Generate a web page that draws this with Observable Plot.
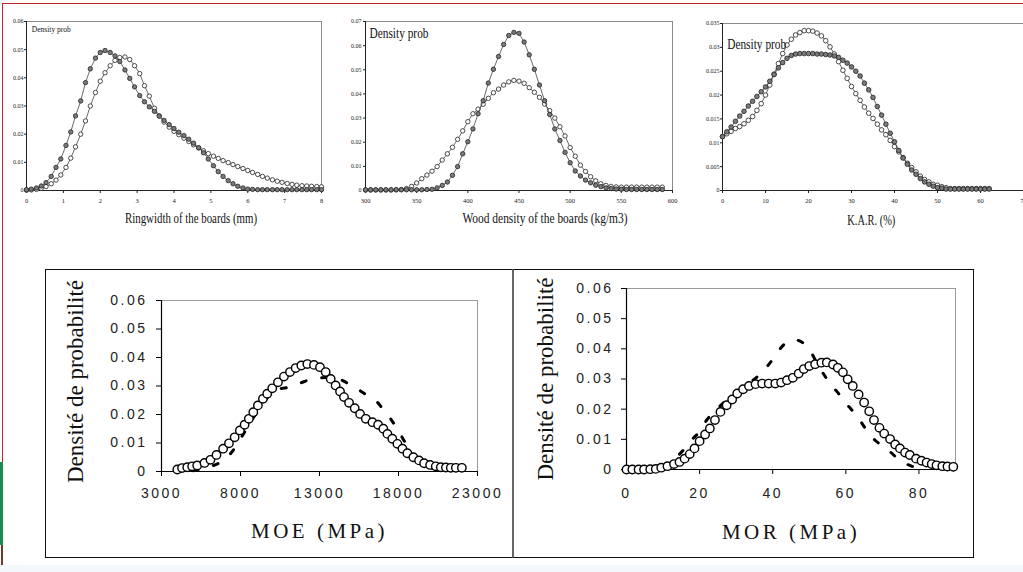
<!DOCTYPE html>
<html><head><meta charset="utf-8">
<script src="https://cdn.jsdelivr.net/npm/d3@7"></script>
<script src="https://cdn.jsdelivr.net/npm/@observablehq/plot@0.6"></script>
<style>
html,body{margin:0;padding:0;background:#fff;}
#page{position:relative;width:1023px;height:572px;overflow:hidden;background:#fff;}
.pane{position:absolute;}
.pane svg{overflow:visible;display:block;}
.bot g[aria-label="x-axis tick label"] text,.bot g[aria-label="y-axis tick label"] text{letter-spacing:2.5px;}
.deco{position:absolute;}
</style></head>
<body><div id="page"></div>
<script>
// ---------- data ----------
const ringX = [0,0.13,0.27,0.4,0.53,0.67,0.8,0.93,1.07,1.2,1.33,1.47,1.6,1.73,1.87,2,2.13,2.27,2.4,2.53,2.67,2.8,2.93,3.07,3.2,3.33,3.47,3.6,3.73,3.87,4,4.13,4.27,4.4,4.53,4.67,4.8,4.93,5.07,5.2,5.33,5.47,5.6,5.73,5.87,6,6.13,6.27,6.4,6.53,6.67,6.8,6.93,7.07,7.2,7.33,7.47,7.6,7.73,7.87,8];
const ringFilled = [0.0003,0.0005,0.0009,0.0016,0.0028,0.005,0.0082,0.0112,0.016,0.0208,0.0265,0.0318,0.0383,0.0432,0.047,0.049,0.0497,0.049,0.0478,0.0458,0.0428,0.0398,0.0368,0.0337,0.0315,0.0297,0.0281,0.0264,0.0249,0.0234,0.022,0.0207,0.0195,0.0182,0.0168,0.0152,0.0134,0.0112,0.0088,0.0067,0.005,0.0035,0.0024,0.0015,0.0009,0.0005,0.0004,0.0003,0.0003,0.0003,0.0003,0.0003,0.0003,0.0003,0.0003,0.0003,0.0003,0.0003,0.0003,0.0003,0.0003];
const ringOpen = [0.0001,0.0002,0.0004,0.0008,0.0014,0.0024,0.0037,0.0055,0.0082,0.0115,0.0155,0.02,0.0247,0.03,0.0348,0.0388,0.0418,0.0443,0.0462,0.0472,0.0474,0.0465,0.0443,0.0415,0.0372,0.0335,0.0292,0.0265,0.0243,0.0225,0.021,0.0198,0.0186,0.0174,0.0162,0.0151,0.0141,0.0131,0.0122,0.0114,0.0106,0.0099,0.0092,0.0085,0.0078,0.0071,0.0064,0.0057,0.005,0.0044,0.0038,0.0033,0.0029,0.0025,0.0022,0.0019,0.0017,0.0016,0.0015,0.0014,0.0013];

const woodX = [300,305,310,315,320,325,330,335,340,345,350,355,360,365,370,375,380,385,390,395,400,405,410,415,420,425,430,435,440,445,450,455,460,465,470,475,480,485,490,495,500,505,510,515,520,525,530,535,540,545,550,555,560,565,570,575,580,585,590];
const woodFilled = [0.0003,0.0003,0.0003,0.0003,0.0003,0.0003,0.0003,0.0003,0.0003,0.0003,0.0003,0.0003,0.0004,0.0005,0.0011,0.0021,0.0035,0.0063,0.0099,0.0152,0.0202,0.0255,0.0318,0.0372,0.0445,0.0502,0.0555,0.0605,0.0642,0.0655,0.0651,0.0615,0.0562,0.0502,0.0437,0.0372,0.0315,0.0255,0.0207,0.0158,0.0115,0.0081,0.006,0.0043,0.0032,0.0022,0.0016,0.0011,0.0008,0.0006,0.0005,0.0004,0.0004,0.0004,0.0004,0.0004,0.0004,0.0004,0.0004];
const woodOpen = [0.0002,0.0002,0.0002,0.0002,0.0002,0.0002,0.0003,0.0004,0.0008,0.0017,0.0031,0.0049,0.0064,0.008,0.0099,0.0126,0.0152,0.0179,0.0212,0.0247,0.0285,0.0318,0.0337,0.0357,0.0382,0.0405,0.042,0.0437,0.045,0.0456,0.0453,0.0444,0.0426,0.0407,0.0386,0.0358,0.0331,0.03,0.0264,0.0226,0.0178,0.0142,0.0105,0.0079,0.0057,0.004,0.0028,0.0021,0.0017,0.0015,0.0014,0.0014,0.0014,0.0014,0.0014,0.0014,0.0014,0.0014,0.0014];

const karX = [0,1,2,3,4,5,6,7,8,9,10,11,12,13,14,15,16,17,18,19,20,21,22,23,24,25,26,27,28,29,30,31,32,33,34,35,36,37,38,39,40,41,42,43,44,45,46,47,48,49,50,51,52,53,54,55,56,57,58,59,60,61,62];
const karFilled = [0.0113,0.0123,0.0133,0.0145,0.0156,0.0166,0.0177,0.0187,0.0197,0.0207,0.0217,0.0229,0.0243,0.0257,0.0268,0.0277,0.0283,0.0286,0.0287,0.0287,0.0287,0.0287,0.0286,0.0286,0.0285,0.0284,0.0282,0.0279,0.0273,0.0267,0.0259,0.025,0.024,0.0225,0.0211,0.0195,0.0176,0.0158,0.0139,0.012,0.0102,0.0084,0.0068,0.0055,0.0043,0.0034,0.0025,0.0018,0.0013,0.0009,0.0006,0.0005,0.0003,0.0003,0.0003,0.0003,0.0003,0.0003,0.0003,0.0003,0.0003,0.0003,0.0003];
const karOpen = [0.0113,0.0119,0.0124,0.013,0.0134,0.014,0.0147,0.0155,0.0168,0.0182,0.02,0.0221,0.0244,0.0266,0.0287,0.0305,0.0317,0.0326,0.0331,0.0335,0.0335,0.0334,0.033,0.0324,0.0314,0.0301,0.0286,0.027,0.0252,0.0235,0.0218,0.0203,0.0189,0.0175,0.0162,0.0151,0.0139,0.0127,0.0117,0.0105,0.0092,0.0081,0.0069,0.0057,0.0048,0.0039,0.003,0.0023,0.0018,0.0013,0.0011,0.0008,0.0006,0.0004,0.0004,0.0004,0.0004,0.0004,0.0004,0.0004,0.0004,0.0004,0.0004];

const moeX = [4000,4300,4630,4940,5260,5720,6100,6480,6900,7270,7630,7960,8260,8530,8810,9100,9420,9690,10010,10370,10750,11130,11490,11850,12230,12650,13030,13390,13710,14020,14300,14550,14870,15230,15570,15930,16350,16710,17040,17300,17610,17930,18250,18560,18940,19300,19620,20000,20360,20680,21000,21310,21630,22010];
const moeOpen = [0.0007,0.0012,0.0015,0.0018,0.0021,0.003,0.0041,0.0058,0.008,0.0099,0.012,0.0144,0.0164,0.0185,0.0208,0.0232,0.0255,0.0273,0.0292,0.0313,0.0333,0.0349,0.0363,0.0372,0.0377,0.0374,0.0366,0.0349,0.0325,0.0302,0.0281,0.0261,0.0241,0.0222,0.0202,0.0185,0.0173,0.0164,0.015,0.0132,0.0115,0.0097,0.008,0.0064,0.005,0.0039,0.0029,0.0023,0.0018,0.0015,0.0014,0.0013,0.0013,0.0013];
const moeDashX = [5000,5500,6000,6500,7000,7500,8000,8500,9000,9500,10000,10500,11000,11500,12000,12500,13000,13500,14000,14500,15000,15500,16000,16500,17000,17500,18000,18500,19000,19500,20000,20500,21000];
const moeDash = [0.0003,0.0008,0.0016,0.0026,0.0042,0.0072,0.0115,0.016,0.0205,0.0245,0.0275,0.029,0.0295,0.0303,0.0315,0.0324,0.0328,0.033,0.0328,0.0318,0.0302,0.0286,0.0268,0.0252,0.022,0.0185,0.0142,0.0095,0.0058,0.003,0.0014,0.0007,0.0003];

const morX = [0,1.6,3.3,4.8,6.5,8,9.5,11.2,13,14.5,15.9,17.3,18.6,20,21.5,22.8,24.2,25.7,27.4,28.9,30.3,31.9,33.5,35.3,37.1,38.9,40.7,42.3,43.9,45.5,47.1,48.5,50,51.6,53.3,54.8,56.5,57.8,59.2,60.5,61.9,63.5,65,66.4,67.7,69.2,70.5,72.1,73.5,74.8,76.2,77.5,79.2,80.7,82.1,83.5,84.8,86.4,87.8,89.4];
const morOpen = [0,0,0,0,0.0001,0.0002,0.0006,0.0011,0.0018,0.0025,0.0036,0.0051,0.007,0.0094,0.0116,0.0136,0.0164,0.0191,0.0213,0.0232,0.0252,0.0266,0.0277,0.0283,0.0285,0.0285,0.0285,0.0288,0.0296,0.0304,0.0318,0.0333,0.0343,0.0349,0.0354,0.0355,0.0348,0.0337,0.0322,0.0299,0.0277,0.0249,0.0222,0.0193,0.0164,0.0138,0.0119,0.0101,0.0083,0.007,0.0056,0.0048,0.0036,0.0029,0.0023,0.0018,0.0014,0.0011,0.001,0.0009];
const morDashX = [10,12,14,16,18,20,22,24,26,28,30,32,34,36,38,40,42,44,46,48,50,52,54,56,58,60,62,64,66,68,70,72,74,76,78,80];
const morDash = [0.0008,0.0025,0.0045,0.007,0.01,0.0126,0.0165,0.0192,0.0215,0.0235,0.0255,0.0272,0.029,0.031,0.0335,0.0365,0.04,0.0423,0.043,0.0422,0.0398,0.0355,0.0315,0.028,0.0252,0.022,0.0192,0.016,0.0125,0.0097,0.0078,0.006,0.0038,0.0022,0.0011,0.0004];

// ---------- tick labels & texts ----------
const ringTicksX = [0,1,2,3,4,5,6,7,8];
const ringTicksY = [0,0.01,0.02,0.03,0.04,0.05,0.06];
const woodTicksX = [300,350,400,450,500,550,600];
const woodTicksY = [0,0.01,0.02,0.03,0.04,0.05,0.06,0.07];
const karTicksX = [0,10,20,30,40,50,60,70];
const karTicksY = [0,0.005,0.01,0.015,0.02,0.025,0.03,0.035];
const botTicksY = [0,0.01,0.02,0.03,0.04,0.05,0.06];
const moeTicksX = [3000,8000,13000,18000,23000];
const morTicksX = [0,20,40,60,80];
const densityLabel = "Density prob";
const ringTitle = "Ringwidth of the boards (mm)";
const woodTitle = "Wood density of the boards (kg/m3)";
const karTitle = "K.A.R. (%)";
const yTitleFr = "Densité de probabilité";
const moeTitle = "MOE (MPa)";
const morTitle = "MOR (MPa)";

// ---------- helpers ----------
const page = document.getElementById("page");
const fmt = d => d === 0 ? "0" : String(+d.toFixed(4));
const zip = (xs, ys) => xs.map((x, i) => ({x, y: ys[i]}));
function place(node, left, top, w, h, cls) {
  const div = document.createElement("div");
  div.className = "pane " + (cls || "");
  div.style.left = left + "px"; div.style.top = top + "px";
  div.style.width = w + "px"; div.style.height = h + "px";
  div.appendChild(node); page.appendChild(div);
}
function deco(left, top, w, h, css) {
  const d = document.createElement("div");
  d.className = "deco";
  Object.assign(d.style, {left: left + "px", top: top + "px", width: w + "px", height: h + "px"}, css);
  page.appendChild(d);
}
function squeeze(svg, str, len) {
  svg.querySelectorAll("text").forEach(t => {
    if (t.textContent === str) { t.setAttribute("textLength", len); t.setAttribute("lengthAdjust", "spacingAndGlyphs"); }
  });
}
function spacing(svg, str, ls) {
  svg.querySelectorAll("text").forEach(t => { if (t.textContent === str) t.style.letterSpacing = ls + "px"; });
}

function topPanel(o) {
  const A = zip(o.x, o.filled), B = zip(o.x, o.open);
  const svg = Plot.plot({
    width: o.w, height: o.h, marginLeft: o.ml, marginRight: o.mr, marginTop: o.mt, marginBottom: o.mb,
    x: {domain: o.xd, label: null}, y: {domain: o.yd, label: null},
    style: {background: "transparent", overflow: "visible", maxWidth: "none", fontFamily: "'Liberation Serif', serif", color: "#222"},
    marks: [
      Plot.frame({stroke: "#8a8a8a"}),
      Plot.axisX({ticks: o.xt, tickSize: 3, tickPadding: 5, fontSize: 6.5, tickFormat: fmt, label: null, color: "#222"}),
      Plot.axisY({ticks: o.yt, tickSize: 2, tickPadding: o.yp, fontSize: 6, tickFormat: fmt, label: null, color: "#222"}),
      Plot.ruleX([o.xd[0]], {stroke: "#222"}),
      Plot.ruleY([0], {stroke: "#222"}),
      Plot.line(B, {x: "x", y: "y", stroke: "#444", strokeWidth: 0.8}),
      Plot.dot(B, {x: "x", y: "y", r: o.r, fill: "white", stroke: "#222", strokeWidth: 0.8}),
      Plot.line(A, {x: "x", y: "y", stroke: "#444", strokeWidth: 0.8}),
      Plot.dot(A, {x: "x", y: "y", r: o.r, fill: "#7b7b7b", stroke: "#222", strokeWidth: 0.8}),
      Plot.text([o.title], {frameAnchor: "bottom", dx: o.tdx, dy: o.tdy, fontSize: 14, textAnchor: "middle", lineAnchor: "middle", fill: "#111"}),
      Plot.text([densityLabel], {frameAnchor: "top-left", dx: o.ldx, dy: o.ldy, fontSize: o.lfs, textAnchor: "start", lineAnchor: "middle", fill: "#111"})
    ]
  });
  squeeze(svg, o.title, o.tlen);
  if (o.llen) squeeze(svg, densityLabel, o.llen);
  place(svg, o.left, o.top, o.w, o.h, "top");
}

function botPanel(o) {
  const O = zip(o.x, o.open), D = zip(o.dx, o.dash);
  const svg = Plot.plot({
    width: o.w, height: o.h, marginLeft: o.ml, marginRight: o.mr, marginTop: o.mt, marginBottom: o.mb,
    x: {domain: o.xd, label: null}, y: {domain: [0, 0.06], label: null},
    style: {background: "transparent", overflow: "visible", maxWidth: "none", fontFamily: "'Liberation Sans', Arial, sans-serif", color: "#222"},
    marks: [
      Plot.frame({stroke: "#9a9a9a"}),
      Plot.axisX({ticks: o.xt, tickSize: 5, tickPadding: o.xp, fontSize: 14, tickFormat: fmt, label: null, color: "#222", stroke: "#000"}),
      Plot.axisY({ticks: botTicksY, tickSize: 5, tickPadding: o.yp, fontSize: 14, tickFormat: fmt, label: null, color: "#222", stroke: "#000"}),
      Plot.ruleX([o.xd[0]], {stroke: "#000", strokeWidth: 1.2}),
      Plot.ruleY([0], {stroke: "#000", strokeWidth: 1.2}),
      Plot.line(D, {x: "x", y: "y", stroke: "#000", strokeWidth: 3, strokeDasharray: "5,16", curve: "catmull-rom"}),
      Plot.dot(O, {x: "x", y: "y", r: 4.2, fill: "white", stroke: "#000", strokeWidth: 1.4}),
      Plot.text([o.title], {frameAnchor: "bottom", dy: o.tdy, fontSize: 21, fontFamily: "'Liberation Serif', serif", textAnchor: "middle", lineAnchor: "middle", fill: "#111"}),
      Plot.text([yTitleFr], {frameAnchor: "left", rotate: -90, dx: o.ydx, dy: o.ydy, fontSize: 23, fontFamily: "'Liberation Serif', serif", textAnchor: "middle", lineAnchor: "middle", fill: "#111"})
    ]
  });
  spacing(svg, o.title, 3.5);
  place(svg, o.left, o.top, o.w, o.h, "bot");
}

// ---------- top row ----------
topPanel({left: 0, top: 0, w: 340, h: 235, ml: 26, mr: 19, mt: 21, mb: 45,
  x: ringX, filled: ringFilled, open: ringOpen, xd: [0, 8], yd: [0, 0.06], xt: ringTicksX, yt: ringTicksY, yp: 1, r: 2.2,
  title: ringTitle, tdx: 17, tdy: 28.5, tlen: 132, ldx: 5.3, ldy: 7.8, lfs: 7.5, llen: 39});
topPanel({left: 340, top: 0, w: 340, h: 235, ml: 25, mr: 8, mt: 21, mb: 45,
  x: woodX, filled: woodFilled, open: woodOpen, xd: [300, 600], yd: [0, 0.07], xt: woodTicksX, yt: woodTicksY, yp: 2, r: 2.2,
  title: woodTitle, tdx: 26, tdy: 28.5, tlen: 165, ldx: 4, ldy: 11.7, lfs: 14, llen: 59});
topPanel({left: 680, top: 0, w: 343, h: 235, ml: 42, mr: 0, mt: 23, mb: 45,
  x: karX, filled: karFilled, open: karOpen, xd: [0, 70], yd: [0, 0.035], xt: karTicksX, yt: karTicksY, yp: 1, r: 2.3,
  title: karTitle, tdx: -1.7, tdy: 30, tlen: 48, ldx: 4.7, ldy: 20.7, lfs: 14, llen: 59});

// ---------- bottom row boxes ----------
deco(45, 269, 468, 289, {border: "1.5px solid #111", borderRight: "none", boxSizing: "border-box"});
deco(512, 269, 462, 289, {border: "1.5px solid #111", borderLeft: "2px solid #666", boxSizing: "border-box"});

botPanel({left: 45, top: 269, w: 468, h: 289, ml: 116, mr: 36, mt: 31, mb: 87,
  x: moeX, open: moeOpen, dx: moeDashX, dash: moeDash, xd: [3000, 23000], xt: moeTicksX, xp: 12, yp: 9,
  title: moeTitle, tdy: 60, ydx: -86, ydy: -4.5});
botPanel({left: 513, top: 269, w: 461, h: 289, ml: 113, mr: 19, mt: 19, mb: 89,
  x: morX, open: morOpen, dx: morDashX, dash: morDash, xd: [0, 90], xt: morTicksX, xp: 14, yp: 8,
  title: morTitle, tdy: 62.4, ydx: -80.7, ydy: 0});

// ---------- page decorations ----------
deco(2, 2.5, 1021, 1.5, {background: "#c0282d"});
deco(1.5, 2.5, 1.5, 460, {background: "#c0282d"});
deco(0, 462, 3, 83, {background: "#1e8c50"});
deco(0.5, 545, 2.5, 20, {background: "#6d3a2c"});
deco(0, 565, 1023, 7, {background: "#f3f9fb"});
</script>
</body></html>
